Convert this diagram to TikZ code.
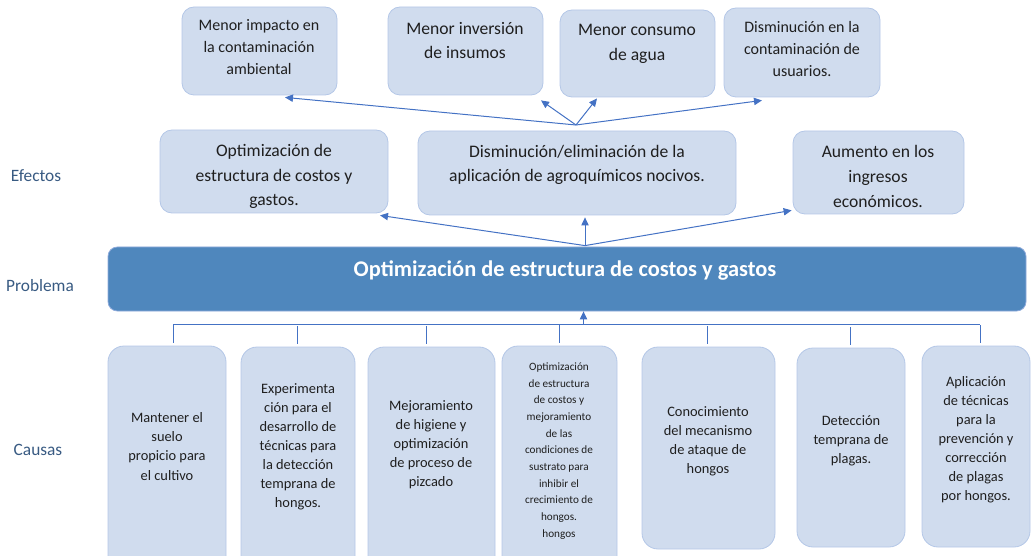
\documentclass[tikz,border=0pt]{standalone}
\usepackage{fontspec}
\setmainfont{Carlito}
\usetikzlibrary{arrows.meta,fit,calc}
\definecolor{boxfill}{HTML}{D0DCEE}
\definecolor{boxline}{HTML}{B4C7E7}
\definecolor{barfill}{HTML}{4F87BD}
\definecolor{barline}{HTML}{8EAADB}
\definecolor{linkblue}{HTML}{4472C4}
\definecolor{labelgray}{HTML}{385A82}
\tikzset{
  cbox/.style={draw=boxline, fill=boxfill, line width=0.6pt, inner sep=0pt, rounded corners=9pt},
  tallbox/.style={cbox, rounded corners=12pt},
  probbar/.style={draw=barline, fill=barfill, line width=0.6pt, inner sep=0pt, rounded corners=7pt},
  txt/.style={align=center, inner sep=0pt, text=black!88},
  toptxt/.style={txt, font=\fontsize{12}{16.5}\selectfont},
  bigtxt/.style={txt, font=\fontsize{13.2}{18.6}\selectfont},
  lowtxt/.style={txt, font=\fontsize{10.8}{14.3}\selectfont},
  tinytxt/.style={txt, font=\fontsize{8.4}{12.5}\selectfont},
  rowlabel/.style={inner sep=0pt, text=labelgray, font=\fontsize{13}{15}\selectfont},
  link/.style={draw=linkblue, line width=0.75pt},
  arr/.style={link, -{Triangle[length=6pt,width=5.5pt]}}
}
\begin{document}
\begin{tikzpicture}[x=0.75pt,y=0.75pt,yscale=-1,xscale=1]
    \useasboundingbox (0,0) rectangle (1032,556);
    \clip (0,0) rectangle (1032,556);
    % row labels
    \node[rowlabel] (lefectos) at (36,176) {Efectos};
    \node[rowlabel] (lproblema) at (40,286) {Problema};
    \node[rowlabel] (lcausas) at (38,450) {Causas};
    % top effects
    \node[cbox, fit={(182,7) (337,95)}] (t1) {};
    \node[toptxt] (t1txt) at (259,47) {Menor impacto en\\la contaminación\\ambiental};
    \node[cbox, fit={(388,7) (543,95)}] (t2) {};
    \node[bigtxt] (t2txt) at (465,40.5) {Menor inversión\\de insumos};
    \node[cbox, fit={(560,10) (715,97)}] (t3) {};
    \node[bigtxt] (t3txt) at (637,43.5) {Menor consumo\\de agua};
    \node[cbox, fit={(724,8) (880,97)}] (t4) {};
    \node[toptxt] (t4txt) at (802,49) {Disminución en la\\contaminación de\\usuarios.};
    % middle effects
    \node[cbox, fit={(160,130) (388,213)}] (m1) {};
    \node[bigtxt] (m1txt) at (274,176.5) {Optimización de\\estructura de costos y\\gastos.};
    \node[cbox, fit={(418,131) (736,215)}] (m2) {};
    \node[bigtxt] (m2txt) at (577,165) {Disminución/eliminación de la\\aplicación de agroquímicos nocivos.};
    \node[cbox, fit={(793,131) (964,214)}] (m3) {};
    \node[bigtxt] (m3txt) at (878,176.5) {Aumento en los\\ingresos\\económicos.};
    % problem
    \node[probbar, fit={(108,247) (1026,311)}] (bar) {};
    \node[txt, text=white, font=\fontsize{16.8}{19}\selectfont\bfseries] (bartxt) at (565,271) {Optimización de estructura de costos y gastos};
    % causes
    \node[tallbox, fit={(108,346) (226,575)}] (b1) {};
    \node[lowtxt] (b1txt) at (167,446.5) {Mantener el\\suelo\\propicio para\\el cultivo};
    \node[tallbox, fit={(241,347) (355,575)}] (b2) {};
    \node[lowtxt] (b2txt) at (298,447) {Experimenta\\ción para el\\desarrollo de\\técnicas para\\la detección\\temprana de\\hongos.};
    \node[tallbox, fit={(368,347) (495,575)}] (b3) {};
    \node[lowtxt] (b3txt) at (431,445) {Mejoramiento\\de higiene y\\optimización\\de proceso de\\pizcado};
    \node[tallbox, fit={(502,346) (617,575)}] (b4) {};
    \node[tinytxt] (b4txt) at (559,451) {Optimización\\de estructura\\de costos y\\mejoramiento\\de las\\condiciones de\\sustrato para\\inhibir el\\crecimiento de\\hongos.\\hongos};
    \node[tallbox, fit={(642,347) (775,549)}] (b5) {};
    \node[lowtxt] (b5txt) at (708,441.5) {Conocimiento\\del mecanismo\\de ataque de\\hongos};
    \node[tallbox, fit={(797,348) (905,547)}] (b6) {};
    \node[lowtxt] (b6txt) at (851,441) {Detección\\temprana de\\plagas.};
    \node[tallbox, fit={(922,346) (1030,547)}] (b7) {};
    \node[lowtxt] (b7txt) at (976,440) {Aplicación\\de técnicas\\para la\\prevención y\\corrección\\de plagas\\por hongos.};
    % fan points
    \coordinate (tfan) at (576,125);
    \coordinate (pfan) at ($(bar.north)+(18,-1)$);
    \coordinate (brk) at ($(b4.north)+(24,-21)$);
    % arrows to top effects
    \draw[arr] (tfan) -- ($(t1.south)+(25.5,2)$);
    \draw[arr] (tfan) -- ($(t2.south)+(75.5,5)$);
    \draw[arr] (tfan) -- ($(t3.south)+(-40.5,1)$);
    \draw[arr] (tfan) -- ($(t4.south)+(-40,3)$);
    % arrows to middle effects
    \draw[arr] (pfan) -- ($(m1.south)+(106,2)$);
    \draw[arr] (pfan) -- ($(m2.south)+(8,2)$);
    \draw[arr] (pfan) -- ($(m3.south west)+(-1,-4)$);
    % bracket of causes
    \draw[link] ($(b1.north)+(6,-21)$) -- ($(b7.north)+(4,-21)$);
    \foreach \b/\dx in {b1/6,b2/-1,b3/-5,b4/0,b5/-1,b6/-1,b7/4}
        \draw[link] ($(\b.north)+(\dx,-3)$) -- ++(0,-18);
    \draw[arr] (brk) -- (brk |- bar.south);
\end{tikzpicture}
\end{document}
